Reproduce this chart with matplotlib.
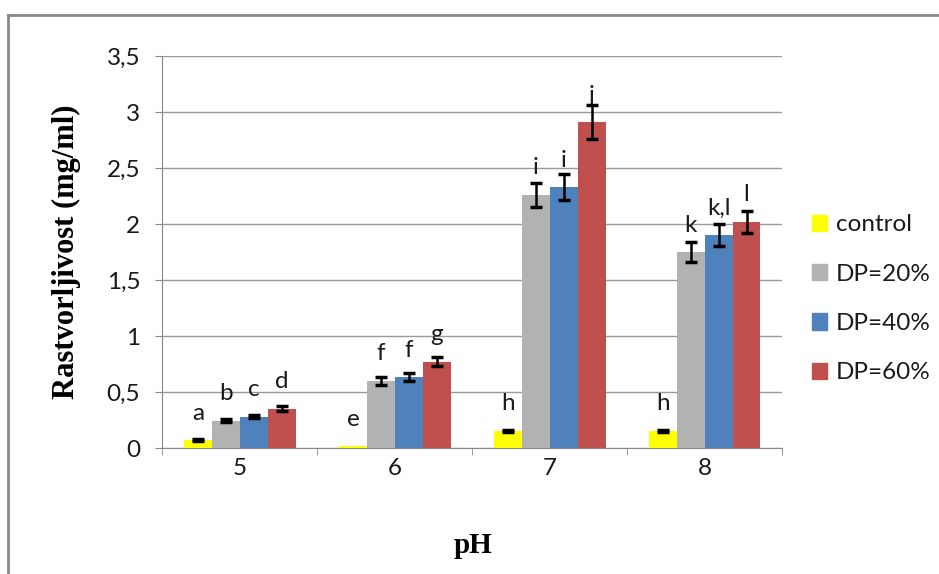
import numpy as np
import matplotlib
matplotlib.use("Agg")
import matplotlib.pyplot as plt
from matplotlib.lines import Line2D
from matplotlib.patches import Patch

# data
ph_labels = ["5", "6", "7", "8"]
series_names = ["control", "DP=20%", "DP=40%", "DP=60%"]
control = [0.07, 0.015, 0.152, 0.152]
dp20 = [0.245, 0.60, 2.26, 1.75]
dp40 = [0.28, 0.634, 2.33, 1.90]
dp60 = [0.35, 0.77, 2.91, 2.02]
err_control = [0.01, 0.0, 0.008, 0.008]
err_dp20 = [0.015, 0.033, 0.11, 0.09]
err_dp40 = [0.015, 0.037, 0.12, 0.097]
err_dp60 = [0.024, 0.04, 0.15, 0.10]
letters_control = ["a", "e", "h", "h"]
letters_dp20 = ["b", "f", "i", "k"]
letters_dp40 = ["c", "f", "i", "k,l"]
letters_dp60 = ["d", "g", "j", "l"]

colors = ["#FFFF00", "#B2B2B2", "#4F81BD", "#C0504D"]

values = [control, dp20, dp40, dp60]
errors = [err_control, err_dp20, err_dp40, err_dp60]
letters = [letters_control, letters_dp20, letters_dp40, letters_dp60]

plt.rcParams['font.family'] = ['Lato', 'DejaVu Sans']
txt_col = "#1a1a1a"
fs = 17.5

fig = plt.figure(figsize=(9.39, 5.74), dpi=100)
ax = fig.add_axes([0.173, 0.2195, 0.66, 0.6829])

x = np.arange(len(ph_labels))
w = 0.18
for i in range(4):
    pos = x + (i - 1.5) * w
    vals = np.array(values[i])
    errs = np.array(errors[i])
    ax.bar(pos, vals, w, color=colors[i], zorder=3)
    has_err = errs > 0
    ax.errorbar(pos[has_err], vals[has_err], yerr=errs[has_err], fmt='none',
                ecolor='black', elinewidth=1.8, capsize=4, capthick=2.5, zorder=4)
    for j in range(len(x)):
        ax.annotate(letters[i][j], (pos[j], values[i][j]), xytext=(0, 27),
                    textcoords='offset pixels', ha='center', va='center',
                    fontsize=fs, color=txt_col)

ax.set_xlim(-0.5, 3.5)
ax.set_ylim(0, 3.5)
ax.set_yticks(np.arange(0, 3.51, 0.5))
ax.set_yticklabels(["0", "0,5", "1", "1,5", "2", "2,5", "3", "3,5"])
ax.set_xticks(x)
ax.set_xticklabels(ph_labels)
ax.set_xticks(np.arange(-0.5, 3.6, 1), minor=True)
ax.tick_params(axis='x', which='major', length=0, pad=7, labelsize=fs, colors=txt_col)
ax.tick_params(axis='x', which='minor', length=5, color='#888888', direction='out')
ax.tick_params(axis='y', length=5, color='#888888', pad=11, labelsize=fs, labelcolor=txt_col)
ax.yaxis.grid(True, color='#9a9a9a', lw=1)
ax.set_axisbelow(True)
for s in ['top', 'right']:
    ax.spines[s].set_visible(False)
ax.spines['left'].set_color('#888888')
ax.spines['bottom'].set_color('#888888')

fig.text(0.5032, 0.049, "pH", ha='center', va='center', fontsize=21,
         fontweight='bold', family='Liberation Serif')
fig.text(0.071, 0.561, "Rastvorljivost (mg/ml)", ha='center', va='center',
         rotation=90, fontsize=22, fontweight='bold', family='Liberation Serif')

handles = [Patch(color=c) for c in colors]
fig.legend(handles, series_names, loc='upper left', bbox_to_anchor=(0.841, 0.665),
           frameon=False, fontsize=fs, handlelength=0.65, handleheight=0.65,
           handletextpad=0.35, labelspacing=1.17, labelcolor=txt_col)

# outer frame
fig.add_artist(Line2D([8 / 939, 1.0], [1 - 15 / 574, 1 - 15 / 574], color='#888888', lw=2))
fig.add_artist(Line2D([8 / 939, 8 / 939], [0, 1 - 15 / 574], color='#888888', lw=2))

fig.savefig("out.png", dpi=100)
